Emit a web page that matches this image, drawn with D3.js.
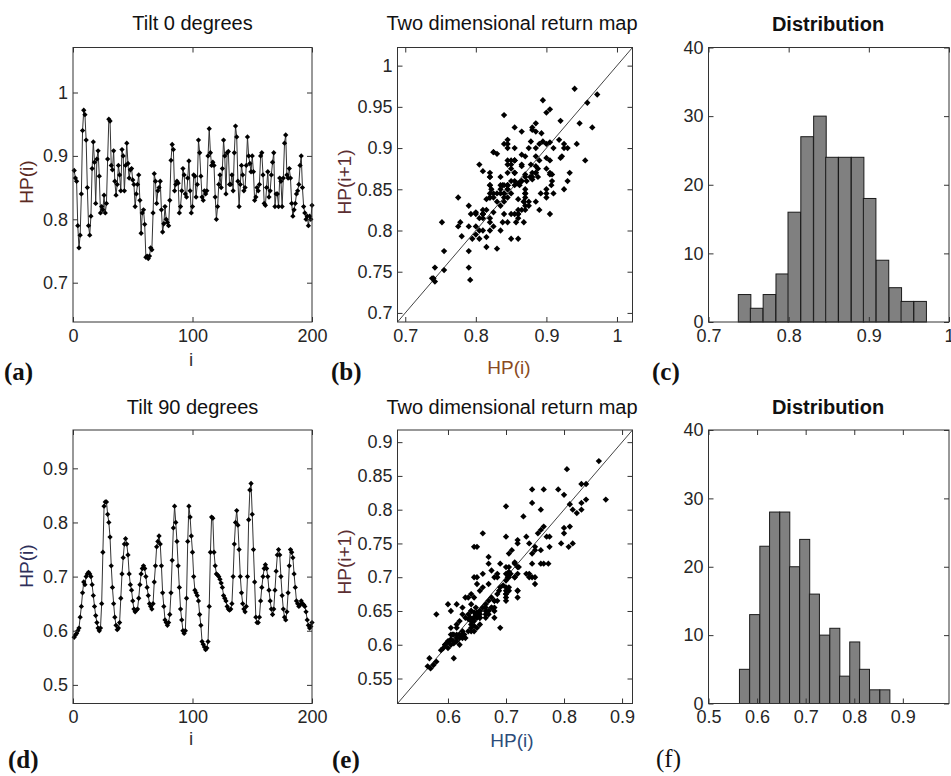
<!DOCTYPE html>
<html>
<head>
<meta charset="utf-8">
<script src="https://cdn.jsdelivr.net/npm/d3@7"></script>
<style>
  body { margin: 0; background: #fff; }
  svg { display: block; }
</style>
</head>
<body>
<div id="chart"></div>
<script>
// HP(i) series, i = 1..200 (a) and (d)
const tilt0 = [
  0.877, 0.865, 0.860, 0.790, 0.755, 0.775, 0.840, 0.940, 0.972, 0.965,
  0.925, 0.850, 0.790, 0.775, 0.805, 0.880, 0.922, 0.890, 0.825, 0.895,
  0.908, 0.868, 0.810, 0.820, 0.815, 0.838, 0.810, 0.825, 0.895, 0.958,
  0.955, 0.885, 0.878, 0.908, 0.860, 0.838, 0.855, 0.885, 0.870, 0.845,
  0.910, 0.900, 0.845, 0.885, 0.920, 0.888, 0.865, 0.878, 0.880, 0.862,
  0.855, 0.820, 0.840, 0.855, 0.870, 0.830, 0.778, 0.810, 0.815, 0.792,
  0.740, 0.742, 0.738, 0.742, 0.755, 0.752, 0.810, 0.872, 0.860, 0.825,
  0.845, 0.850, 0.860, 0.815, 0.780, 0.793, 0.820, 0.800, 0.795, 0.790,
  0.830, 0.893, 0.918, 0.910, 0.845, 0.855, 0.860, 0.857, 0.810, 0.820,
  0.845, 0.880, 0.870, 0.840, 0.835, 0.865, 0.892, 0.845, 0.810, 0.820,
  0.870, 0.868, 0.835, 0.855, 0.925, 0.905, 0.868, 0.835, 0.830, 0.845,
  0.840, 0.845, 0.900, 0.943, 0.905, 0.885, 0.890, 0.885, 0.835, 0.800,
  0.820, 0.855, 0.870, 0.850, 0.880, 0.925, 0.900, 0.840, 0.905, 0.907,
  0.855, 0.855, 0.870, 0.845, 0.905, 0.947, 0.930, 0.860, 0.820, 0.855,
  0.885, 0.870, 0.845, 0.850, 0.885, 0.930, 0.900, 0.888, 0.875, 0.900,
  0.875, 0.830, 0.835, 0.850, 0.845, 0.855, 0.900, 0.905, 0.870, 0.825,
  0.822, 0.850, 0.875, 0.835, 0.845, 0.870, 0.890, 0.905, 0.820, 0.840,
  0.840, 0.820, 0.865, 0.860, 0.820, 0.865, 0.920, 0.933, 0.870, 0.865,
  0.880, 0.865, 0.825, 0.805, 0.815, 0.825, 0.840, 0.845, 0.855, 0.885,
  0.900, 0.850, 0.820, 0.810, 0.800, 0.805, 0.790, 0.805, 0.800, 0.822
];

const tilt90 = [
  0.588, 0.592, 0.595, 0.600, 0.605, 0.625, 0.645, 0.670, 0.690, 0.685,
  0.700, 0.705, 0.708, 0.705, 0.700, 0.685, 0.665, 0.645, 0.628, 0.615,
  0.605, 0.600, 0.605, 0.650, 0.745, 0.830, 0.838, 0.838, 0.815, 0.800,
  0.773, 0.720, 0.680, 0.650, 0.625, 0.610, 0.602, 0.605, 0.615, 0.660,
  0.705, 0.735, 0.760, 0.770, 0.760, 0.740, 0.705, 0.685, 0.675, 0.655,
  0.640, 0.635, 0.638, 0.640, 0.660, 0.685, 0.705, 0.715, 0.720, 0.715,
  0.700, 0.680, 0.665, 0.650, 0.645, 0.640, 0.650, 0.690, 0.720, 0.755,
  0.765, 0.775, 0.760, 0.720, 0.670, 0.645, 0.620, 0.615, 0.610, 0.615,
  0.630, 0.670, 0.730, 0.790, 0.830, 0.800, 0.765, 0.720, 0.680, 0.640,
  0.620, 0.600, 0.595, 0.600, 0.660, 0.765, 0.830, 0.810, 0.775, 0.745,
  0.700, 0.675, 0.670, 0.665, 0.655, 0.630, 0.610, 0.580, 0.575, 0.570,
  0.565, 0.568, 0.580, 0.645, 0.745, 0.810, 0.808, 0.745, 0.720, 0.705,
  0.703, 0.700, 0.695, 0.688, 0.680, 0.665, 0.660, 0.655, 0.645, 0.640,
  0.638, 0.640, 0.650, 0.700, 0.760, 0.800, 0.822, 0.795, 0.750, 0.700,
  0.670, 0.650, 0.640, 0.635, 0.645, 0.700, 0.805, 0.860, 0.872, 0.815,
  0.750, 0.690, 0.625, 0.615, 0.615, 0.625, 0.655, 0.680, 0.700, 0.715,
  0.722, 0.715, 0.700, 0.675, 0.655, 0.640, 0.630, 0.640, 0.675, 0.710,
  0.740, 0.750, 0.740, 0.700, 0.665, 0.640, 0.625, 0.620, 0.635, 0.670,
  0.720, 0.750, 0.745, 0.735, 0.705, 0.680, 0.655, 0.650, 0.645, 0.648,
  0.655, 0.650, 0.648, 0.645, 0.635, 0.620, 0.610, 0.605, 0.608, 0.615
];

// histograms (bin centres and counts)
const dist0Centers = [0.745, 0.760, 0.776, 0.792, 0.807, 0.823, 0.839, 0.854, 0.870, 0.886, 0.901, 0.917, 0.933, 0.948, 0.964];
const dist0Counts = [4, 2, 4, 7, 16, 27, 30, 24, 24, 24, 18, 9, 5, 3, 3];
const dist0Width = 0.01565;

const dist90Centers = [0.574, 0.595, 0.616, 0.636, 0.657, 0.677, 0.698, 0.718, 0.739, 0.760, 0.780, 0.801, 0.821, 0.842, 0.863];
const dist90Counts = [5, 13, 23, 28, 28, 20, 24, 16, 10, 11, 4, 9, 5, 2, 2];
const dist90Width = 0.0206;

// tick values
const ticksIndex = [0, 100, 200];
const ticksA = [0.7, 0.8, 0.9, 1];
const ticksB = [0.7, 0.75, 0.8, 0.85, 0.9, 0.95, 1];
const ticksBx = [0.7, 0.8, 0.9, 1];
const ticksCx = [0.7, 0.8, 0.9, 1];
const ticksCount = [0, 10, 20, 30, 40];
const ticksD = [0.5, 0.6, 0.7, 0.8, 0.9];
const ticksE = [0.55, 0.6, 0.65, 0.7, 0.75, 0.8, 0.85, 0.9];
const ticksEx = [0.6, 0.7, 0.8, 0.9];
const ticksFx = [0.5, 0.6, 0.7, 0.8, 0.9];

const width = 951;
const height = 776;
const sans = "'Liberation Sans', Arial, sans-serif";
const serif = "'Liberation Serif', 'Times New Roman', serif";

const svg = d3.select("#chart")
  .append("svg")
  .attr("width", width)
  .attr("height", height);

const fmt = d3.format("~g");

// panel frame: scales plus a marks layer below the box and ticks
function panel(box, xDom, yDom, xTicks, yTicks) {
  const x = d3.scaleLinear().domain(xDom).range([box.left, box.right]);
  const y = d3.scaleLinear().domain(yDom).range([box.bottom, box.top]);
  const g = svg.append("g");
  const marks = g.append("g");
  const axes = g.append("g");

  axes.append("g")
    .attr("transform", `translate(0,${box.bottom})`)
    .call(d3.axisBottom(x).tickValues(xTicks).tickSize(-5).tickPadding(7).tickFormat(fmt));
  axes.append("g")
    .attr("transform", `translate(0,${box.top})`)
    .call(d3.axisTop(x).tickValues(xTicks).tickSize(-5).tickFormat(""));
  axes.append("g")
    .attr("transform", `translate(${box.left},0)`)
    .call(d3.axisLeft(y).tickValues(yTicks).tickSize(-5).tickPadding(5).tickFormat(fmt));
  axes.append("g")
    .attr("transform", `translate(${box.right},0)`)
    .call(d3.axisRight(y).tickValues(yTicks).tickSize(-5).tickFormat(""));

  axes.selectAll(".domain").remove();
  axes.selectAll(".tick line").attr("stroke", "#333");
  axes.selectAll(".tick text")
    .attr("font-family", sans)
    .attr("font-size", 18)
    .attr("fill", "#262626");

  axes.append("rect")
    .attr("x", box.left)
    .attr("y", box.top)
    .attr("width", box.right - box.left)
    .attr("height", box.bottom - box.top)
    .attr("fill", "none")
    .attr("stroke", "#333")
    .attr("stroke-width", 1);

  return { x, y, marks };
}

function label(txt, x, y, opts = {}) {
  const t = svg.append("text")
    .attr("x", x)
    .attr("y", y)
    .attr("text-anchor", opts.anchor || "middle")
    .attr("font-family", opts.family || sans)
    .attr("font-size", opts.size || 19)
    .attr("font-weight", opts.weight || "normal")
    .attr("fill", opts.fill || "#111")
    .text(txt);
  if (opts.rotate) t.attr("transform", `rotate(-90,${x},${y})`);
  return t;
}

const diamond = s => d3.symbol().type(d3.symbolSquare).size(s)();

function series(p, values) {
  const line = d3.line()
    .x((d, i) => p.x(i + 1))
    .y(d => p.y(d));
  p.marks.append("path")
    .datum(values)
    .attr("d", line)
    .attr("fill", "none")
    .attr("stroke", "#333")
    .attr("stroke-width", 1);
  p.marks.selectAll(".pt")
    .data(values)
    .enter()
    .append("path")
    .attr("class", "pt")
    .attr("d", diamond(14))
    .attr("transform", (d, i) => `translate(${p.x(i + 1)},${p.y(d)}) rotate(45)`)
    .attr("fill", "#000");
}

function returnMap(p, values, dom) {
  p.marks.append("line")
    .attr("x1", p.x(dom[0])).attr("y1", p.y(dom[0]))
    .attr("x2", p.x(dom[1])).attr("y2", p.y(dom[1]))
    .attr("stroke", "#444")
    .attr("stroke-width", 1);
  p.marks.selectAll(".pt")
    .data(d3.pairs(values))
    .enter()
    .append("path")
    .attr("class", "pt")
    .attr("d", diamond(20))
    .attr("transform", d => `translate(${p.x(d[0])},${p.y(d[1])}) rotate(45)`)
    .attr("fill", "#000");
}

function histogram(p, centers, counts, w) {
  p.marks.selectAll(".bar")
    .data(centers)
    .enter()
    .append("rect")
    .attr("class", "bar")
    .attr("x", c => p.x(c - w / 2))
    .attr("width", c => p.x(c + w / 2) - p.x(c - w / 2))
    .attr("y", (c, i) => p.y(counts[i]))
    .attr("height", (c, i) => p.y(0) - p.y(counts[i]))
    .attr("fill", "#808080")
    .attr("stroke", "#1a1a1a")
    .attr("stroke-width", 1);
}

// layout
const col = [
  { left: 73, right: 312 },
  { left: 397.5, right: 632.5 },
  { left: 708.5, right: 949 }
];
const row = [
  { top: 47.5, bottom: 322 },
  { top: 430, bottom: 703.5 }
];
const box = (c, r) => ({ ...col[c], ...row[r] });

// ---- top row: tilt 0
const domA = [0.638, 1.071];
const pA = panel(box(0, 0), [0, 200], domA, ticksIndex, ticksA);
series(pA, tilt0);

const domB = [0.689, 1.022];
const pB = panel(box(1, 0), domB, domB, ticksBx, ticksB);
returnMap(pB, tilt0, domB);

const pC = panel(box(2, 0), [0.7, 1.0], [0, 40], ticksCx, ticksCount);
histogram(pC, dist0Centers, dist0Counts, dist0Width);

// ---- bottom row: tilt 90
const pD = panel(box(0, 1), [0, 200], [0.4656, 0.9708], ticksIndex, ticksD);
series(pD, tilt90);

const domE = [0.513, 0.918];
const pE = panel(box(1, 1), domE, domE, ticksEx, ticksE);
returnMap(pE, tilt90, domE);

const pF = panel(box(2, 1), [0.5, 0.995], [0, 40], ticksFx, ticksCount);
histogram(pF, dist90Centers, dist90Counts, dist90Width);

// titles
label("Tilt  0 degrees", 192.5, 30, { size: 20 });
label("Two dimensional return map", 512, 30, { size: 20 });
label("Distribution", 828, 31, { size: 20, weight: "bold" });
label("Tilt 90 degrees", 192.5, 414, { size: 20 });
label("Two dimensional return map", 512, 414, { size: 20 });
label("Distribution", 828, 414, { size: 20, weight: "bold" });

// axis labels
label("HP(i)", 33, 182, { rotate: true, fill: "#5a2a22" });
label("i", 191, 366, { fill: "#333" });
label("HP(i+1)", 351, 182, { rotate: true, fill: "#5c2f33" });
label("HP(i)", 509, 374, { fill: "#8a4a22" });
label("HP(i)", 33, 566, { rotate: true, fill: "#2e2f5a" });
label("i", 191, 745, { fill: "#333" });
label("HP(i+1)", 351, 562, { rotate: true, fill: "#5c2f33" });
label("HP(i)", 512, 747, { fill: "#2d4c7a" });

// panel letters
label("(a)", 4, 380, { anchor: "start", family: serif, size: 25, weight: "bold" });
label("(b)", 331, 380, { anchor: "start", family: serif, size: 25, weight: "bold" });
label("(c)", 652, 380, { anchor: "start", family: serif, size: 25, weight: "bold" });
label("(d)", 8, 768, { anchor: "start", family: serif, size: 25, weight: "bold" });
label("(e)", 332, 768, { anchor: "start", family: serif, size: 25, weight: "bold" });
label("(f)", 656, 767, { anchor: "start", family: serif, size: 25 });
</script>
</body>
</html>
